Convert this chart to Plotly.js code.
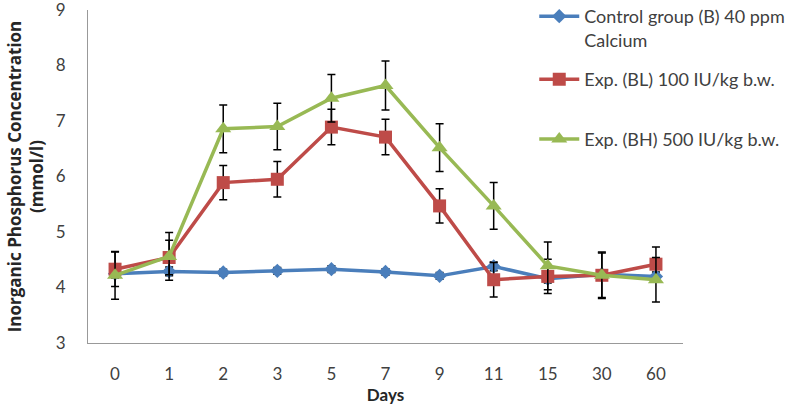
<!DOCTYPE html>
<html>
<head>
<meta charset="utf-8">
<script src="https://cdn.plot.ly/plotly-3.0.1.min.js"></script>
<style>
  html, body { margin: 0; padding: 0; background: #fff; }
  #chart { width: 787px; height: 405px; }
</style>
</head>
<body>
<div id="chart"></div>
<script>
// days sampled (category axis)
const days = ['0', '1', '2', '3', '5', '7', '9', '11', '15', '30', '60']

// control group (B) 40 ppm calcium
const controlVals = [4.25, 4.29, 4.27, 4.30, 4.33, 4.28, 4.21, 4.38, 4.16, 4.24, 4.20]
const controlErr  = [0.08, 0.08, 0.06, 0.06, 0.06, 0.06, 0.06, 0.08, 0.08, 0.08, 0.08]

// exp. (BL) 100 IU/kg b.w.
const lowVals = [4.33, 4.54, 5.89, 5.95, 6.89, 6.71, 5.47, 4.14, 4.20, 4.22, 4.42]
const lowErr  = [0.31, 0.31, 0.31, 0.32, 0.32, 0.32, 0.31, 0.31, 0.31, 0.40, 0.31]

// exp. (BH) 500 IU/kg b.w.
const highVals = [4.22, 4.56, 6.86, 6.90, 7.41, 7.64, 6.52, 5.47, 4.39, 4.22, 4.14]
const highErr  = [0.43, 0.43, 0.43, 0.42, 0.43, 0.44, 0.43, 0.42, 0.43, 0.42, 0.40]

const names = [
    'Control group (B) 40 ppm<br>Calcium',
    'Exp. (BL) 100 IU/kg b.w.',
    'Exp. (BH) 500 IU/kg b.w.'
]
const colors = ['#4A7EBB', '#BE4B48', '#98B954']
const legendIds = ['legend', 'legend2', 'legend3']

function makeTrace(vals, errs, i, symbol, size) {
    return {
        name: names[i],
        legend: legendIds[i],
        type: 'scatter',
        mode: 'lines+markers',
        x: days,
        y: vals,
        line: {color: colors[i], width: 3.5},
        marker: {symbol: symbol, size: size, color: colors[i]},
        error_y: {type: 'data', array: errs, visible: true, color: '#000', thickness: 1.5, width: 4},
    }
}

const data = [
    makeTrace(controlVals, controlErr, 0, 'diamond', 11),
    makeTrace(lowVals, lowErr, 1, 'square', 13),
    makeTrace(highVals, highErr, 2, 'triangle-up', 14),
]

function legendAt(y) {
    return {
        x: 0.75, y: y, xanchor: 'left', yanchor: 'top',
        bgcolor: 'rgba(0,0,0,0)',
        font: {family: 'Lato, sans-serif', size: 18, color: '#404040'},
        valign: 'top',
        itemwidth: 40,
    }
}

const layout = {
    width: 787,
    height: 405,
    margin: {l: 88, r: 104, t: 10, b: 62, autoexpand: false},
    paper_bgcolor: '#fff',
    plot_bgcolor: '#fff',
    font: {family: 'Lato, sans-serif', size: 18, color: '#404040'},
    showlegend: true,
    legend: legendAt(1.036),
    legend2: legendAt(0.847),
    legend3: legendAt(0.667),
    xaxis: {
        type: 'category',
        range: [-0.5, 10.5],
        showline: true, linecolor: '#999', linewidth: 1,
        showgrid: false, zeroline: false,
        ticks: '',
        ticklabelstandoff: 16,
        ticklabeloverflow: 'allow',
        tickfont: {size: 17, color: '#404040'},
        title: {text: '<b>Days</b>', font: {size: 17, color: '#262626'}, standoff: 3},
    },
    yaxis: {
        range: [3, 9],
        dtick: 1,
        showline: true, linecolor: '#999', linewidth: 1,
        showgrid: false, zeroline: false,
        ticks: '',
        ticklabelstandoff: 18,
        ticklabeloverflow: 'allow',
        tickfont: {size: 17, color: '#404040'},
        title: {text: '<b>Inorganic Phosphorus Concentration<br>(mmol/l)</b>', font: {family: 'Open Sans, sans-serif', size: 17, color: '#262626'}, standoff: 7},
    },
}

Plotly.newPlot('chart', data, layout, {displayModeBar: false, staticPlot: true})
</script>
</body>
</html>
